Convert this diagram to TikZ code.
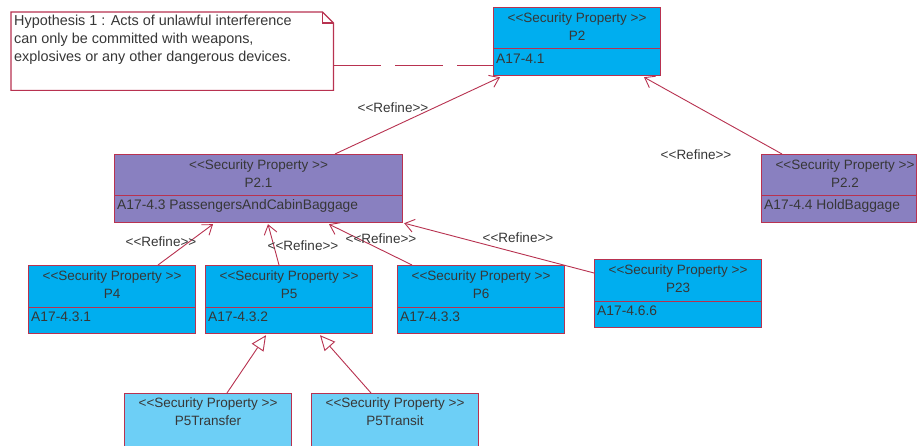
\documentclass[tikz,border=0pt]{standalone}
\usepackage{fontspec}
\newfontfamily\diagfont{Liberation Sans}
\usetikzlibrary{calc,arrows.meta}

\definecolor{edgecol}{RGB}{184,50,80}
\definecolor{propblue}{RGB}{0,174,239}
\definecolor{proppurple}{RGB}{137,128,192}
\definecolor{proplight}{RGB}{109,207,246}
\definecolor{ink}{RGB}{55,55,55}

\tikzset{
  x=1pt, y=-1pt,
  propbox/.style={draw=edgecol, line width=1.2pt, rectangle, inner sep=0pt,
    minimum width=167pt, minimum height=68pt, anchor=north west},
  bluebox/.style={propbox, fill=propblue},
  purplebox/.style={propbox, fill=proppurple},
  lightbox/.style={propbox, fill=proplight},
  lbl/.style={text=ink, font=\diagfont\fontsize{13.5}{16}\selectfont, inner sep=0pt},
  divider/.style={draw=edgecol, line width=1pt},
  refine/.style={draw=edgecol, line width=0.9pt,
    -{Straight Barb[length=9pt,width=13pt,line width=0.9pt]}},
  generalize/.style={draw=edgecol, line width=0.9pt,
    -{Triangle[open,length=15pt,width=14pt,fill=white,line width=0.9pt]}},
  notelink/.style={draw=edgecol, line width=0.9pt, dash pattern=on 48pt off 14pt},
  noteline/.style={draw=edgecol, line width=1.2pt},
}

% class box: name, box style, x, y, title, attribute
\newcommand{\secbox}[6]{%
  \node[#2] (#1) at (#3,#4) {};
  \node[lbl] at ($(#1.north)+(0,12)$) {<<Security Property >>};
  \node[lbl] at ($(#1.north)+(0,29)$) {#5};
  \draw[divider] ($(#1.north west)+(0,42)$) -- ($(#1.north east)+(0,42)$);
  \node[lbl, anchor=west, font=\diagfont\fontsize{13.8}{16}\selectfont] at ($(#1.north west)+(3,52)$) {#6};
}

\begin{document}
\begin{tikzpicture}
\useasboundingbox[fill=white] (0,0) rectangle (917,446);
\clip (0,0) rectangle (917,446);

% hypothesis note with folded corner
\node[inner sep=0pt, minimum width=322pt, minimum height=78pt, anchor=north west] (note) at (11,12) {};
\draw[noteline, fill=white] (note.north west) -- ($(note.north east)+(-11,0)$)
  -- ($(note.north east)+(0,11)$) -- (note.south east) -- (note.south west) -- cycle;
\draw[noteline] ($(note.north east)+(-11,0)$) -- ($(note.north east)+(-11,11)$) -- ($(note.north east)+(0,11)$);
\node[lbl, anchor=north west, align=left, font=\diagfont\fontsize{14.4}{18}\selectfont]
  (notetext) at (14,15) {Hypothesis 1 : Acts of unlawful interference\\
  can only be committed with weapons,\\
  explosives or any other dangerous devices.};

% property boxes
\secbox{p2}{bluebox}{493}{7}{P2}{A17-4.1}
\secbox{p21}{purplebox, minimum width=288pt}{114}{154}{P2.1}{A17-4.3 PassengersAndCabinBaggage}
\secbox{p4}{bluebox}{28}{265}{P4}{A17-4.3.1}
\secbox{p5}{bluebox}{205}{265}{P5}{A17-4.3.2}
\secbox{p6}{bluebox}{397}{265}{P6}{A17-4.3.3}
\secbox{p23}{bluebox}{594}{259}{P23}{A17-4.6.6}

% P2.2 runs against the right edge
\node[purplebox, minimum width=155pt] (p22) at (761,154) {};
\node[lbl] at (845,166) {<<Security Property >>};
\node[lbl] at (845,183) {P2.2};
\draw[divider] ($(p22.north west)+(0,42)$) -- ($(p22.north east)+(0,42)$);
\node[lbl, anchor=west, font=\diagfont\fontsize{13.8}{16}\selectfont] at ($(p22.north west)+(3,52)$) {A17-4.4 HoldBaggage};

% specialisations of P5
\node[lightbox] (ptf) at (124,393) {};
\node[lbl] at ($(ptf.north)+(0,11)$) {<<Security Property >>};
\node[lbl] at ($(ptf.north)+(0,28)$) {P5Transfer};
\node[lightbox] (ptn) at (311,393) {};
\node[lbl] at ($(ptn.north)+(0,11)$) {<<Security Property >>};
\node[lbl] at ($(ptn.north)+(0,28)$) {P5Transit};

% note attachment
\draw[notelink] ($(note.north east)+(0,53)$) -- ($(p2.north west)+(0,58)$);

% refine dependencies
\draw[refine] ($(p21.north west)+(221,0)$) -- ($(p2.south west)+(7,1)$);
\draw[refine] ($(p22.north west)+(21,0)$) -- ($(p2.south west)+(151,1)$);
\draw[refine] ($(p4.north west)+(130,0)$) -- ($(p21.south west)+(99,1)$);
\draw[refine] ($(p5.north west)+(74,0)$) -- ($(p21.south west)+(154,1)$);
\draw[refine] ($(p6.north west)+(15,0)$) -- ($(p21.south west)+(215,1)$);
\draw[refine] ($(p23.north west)+(0,14)$) -- ($(p21.south east)+(1,0)$);

\node[lbl] (r1) at (393,108) {<<Refine>>};
\node[lbl] (r2) at (696,155) {<<Refine>>};
\node[lbl] (r3) at (161,242) {<<Refine>>};
\node[lbl] (r4) at (303,246) {<<Refine>>};
\node[lbl] (r5) at (381,239) {<<Refine>>};
\node[lbl] (r6) at (518,238) {<<Refine>>};

% generalisations
\draw[generalize] ($(ptf.north west)+(103,0)$) -- ($(p5.south west)+(61,1)$);
\draw[generalize] ($(ptn.north west)+(60,0)$) -- ($(p5.south west)+(115,1)$);
\end{tikzpicture}
\end{document}
